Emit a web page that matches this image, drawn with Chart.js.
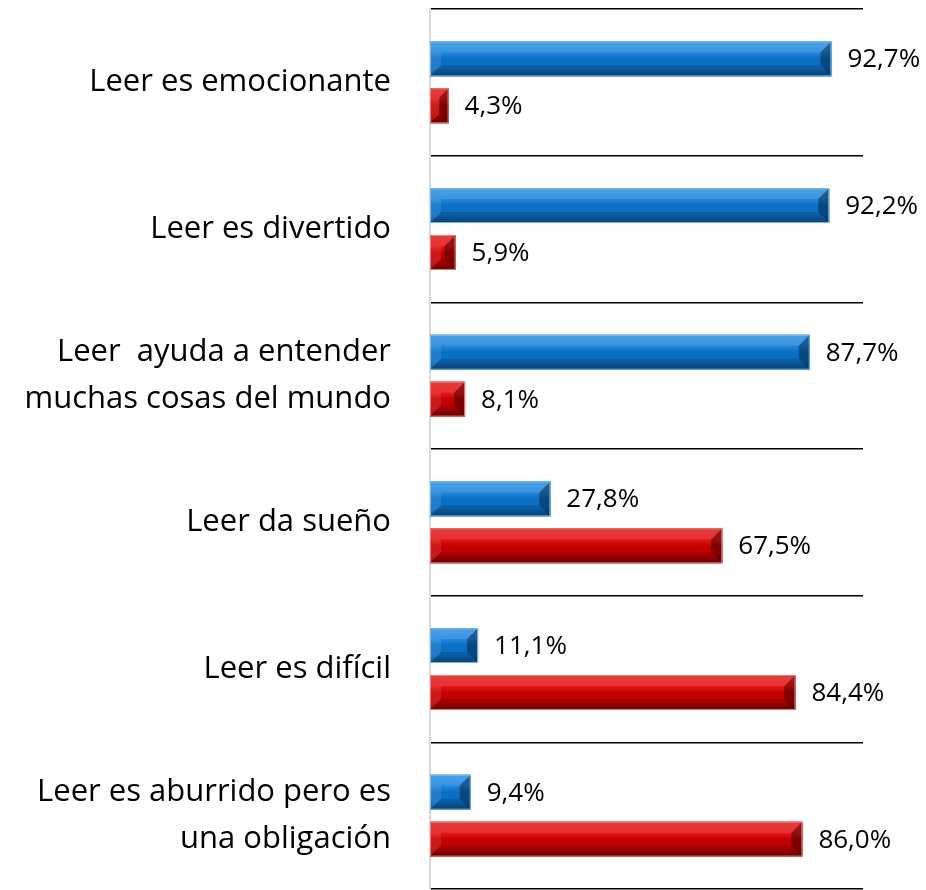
<!DOCTYPE html>
<html>
<head>
  <title>Leer</title>
  <script src="https://cdn.jsdelivr.net/npm/chart.js"></script>
  <style>
    body { margin: 0; background: #fff; }
    #wrap { width: 926px; height: 890px; }
  </style>
</head>
<body>
<div id="wrap"><canvas id="readChart" width="926" height="890"></canvas></div>

<script>
  // categories and values
  const categories = [
    'Leer es emocionante',
    'Leer es divertido',
    ['Leer  ayuda a entender', 'muchas cosas del mundo'],
    'Leer da sueño',
    'Leer es difícil',
    ['Leer es aburrido pero es', 'una obligación']
  ];
  const agreeValues = [92.7, 92.2, 87.7, 27.8, 11.1, 9.4];
  const disagreeValues = [4.3, 5.9, 8.1, 67.5, 84.4, 86.0];

  const fmt = v => v.toFixed(1).replace('.', ',') + '%';

  // bevelled look on top of each bar + value labels
  const bevelPlugin = {
    id: 'bevel',
    afterDatasetsDraw(chart) {
      const ctx = chart.ctx;
      chart.data.datasets.forEach((ds, di) => {
        const meta = chart.getDatasetMeta(di);
        meta.data.forEach((bar, i) => {
          const p = bar.getProps(['x', 'y', 'base', 'height'], true);
          const left = p.base, right = p.x;
          const top = p.y - p.height / 2, bottom = p.y + p.height / 2;
          const h = bottom - top;
          const b = Math.min(11, (right - left) / 2);

          ctx.save();
          const g = ctx.createLinearGradient(0, top, 0, bottom);
          g.addColorStop(0, ds.light);
          g.addColorStop(0.3, ds.highlight);
          g.addColorStop(0.5, ds.backgroundColor);
          g.addColorStop(0.75, ds.backgroundColor);
          g.addColorStop(1, ds.dark);
          ctx.fillStyle = g;
          ctx.fillRect(left, top, right - left, h);

          // right end bevel
          ctx.fillStyle = 'rgba(0,0,0,0.35)';
          ctx.beginPath();
          ctx.moveTo(right, top);
          ctx.lineTo(right, bottom);
          ctx.lineTo(right - b, bottom - b);
          ctx.lineTo(right - b, top + b);
          ctx.closePath();
          ctx.fill();

          // left end bevel
          ctx.fillStyle = 'rgba(255,255,255,0.1)';
          ctx.beginPath();
          ctx.moveTo(left, top);
          ctx.lineTo(left + b, top + b);
          ctx.lineTo(left + b, bottom - b);
          ctx.lineTo(left, bottom);
          ctx.closePath();
          ctx.fill();

          // top and bottom bevels
          ctx.fillStyle = 'rgba(255,255,255,0.1)';
          ctx.beginPath();
          ctx.moveTo(left, top);
          ctx.lineTo(right, top);
          ctx.lineTo(right - b, top + b);
          ctx.lineTo(left + b, top + b);
          ctx.closePath();
          ctx.fill();
          ctx.fillStyle = 'rgba(0,0,0,0.15)';
          ctx.beginPath();
          ctx.moveTo(left, bottom);
          ctx.lineTo(right, bottom);
          ctx.lineTo(right - b, bottom - b);
          ctx.lineTo(left + b, bottom - b);
          ctx.closePath();
          ctx.fill();

          ctx.strokeStyle = ds.edge;
          ctx.lineWidth = 1;
          ctx.strokeRect(left + 0.5, top + 0.5, right - left - 1, h - 1);

          // value label
          ctx.fillStyle = '#000';
          ctx.font = '26px "Open Sans"';
          ctx.textAlign = 'left';
          ctx.textBaseline = 'middle';
          ctx.fillText(fmt(ds.data[i]), right + 16, p.y + 1);
          ctx.restore();
        });
      });
    }
  };

  const ctx = document.getElementById('readChart').getContext('2d');
  new Chart(ctx, {
    type: 'bar',
    data: {
      labels: categories,
      datasets: [
        {
          label: 'Sí',
          data: agreeValues,
          backgroundColor: '#0b6fc4',
          light: '#3a98e2',
          highlight: '#2488dc',
          dark: '#0a4a85',
          edge: '#7fb8e6'
        },
        {
          label: 'No',
          data: disagreeValues,
          backgroundColor: '#c20000',
          light: '#dc2a2a',
          highlight: '#e81a1a',
          dark: '#780000',
          edge: '#e08080'
        }
      ]
    },
    options: {
      indexAxis: 'y',
      responsive: false,
      animation: false,
      layout: { padding: { top: 9, right: 63, bottom: 1, left: 0 } },
      categoryPercentage: 0.64,
      barPercentage: 0.745,
      plugins: {
        legend: { display: false },
        tooltip: { enabled: false }
      },
      scales: {
        x: { display: false, min: 0, max: 100 },
        y: {
          afterFit: scale => {
            scale.width = 430;
            scale.paddingTop = 0;
            scale.paddingBottom = 0;
          },
          grid: { offset: true, color: '#000', lineWidth: 1.5, drawTicks: false },
          border: { color: '#d9d9d9', width: 2 },
          ticks: {
            padding: 39,
            color: '#000',
            font: { family: 'Open Sans', size: 31, lineHeight: 1.5 }
          }
        }
      }
    },
    plugins: [bevelPlugin]
  });
</script>
</body>
</html>
